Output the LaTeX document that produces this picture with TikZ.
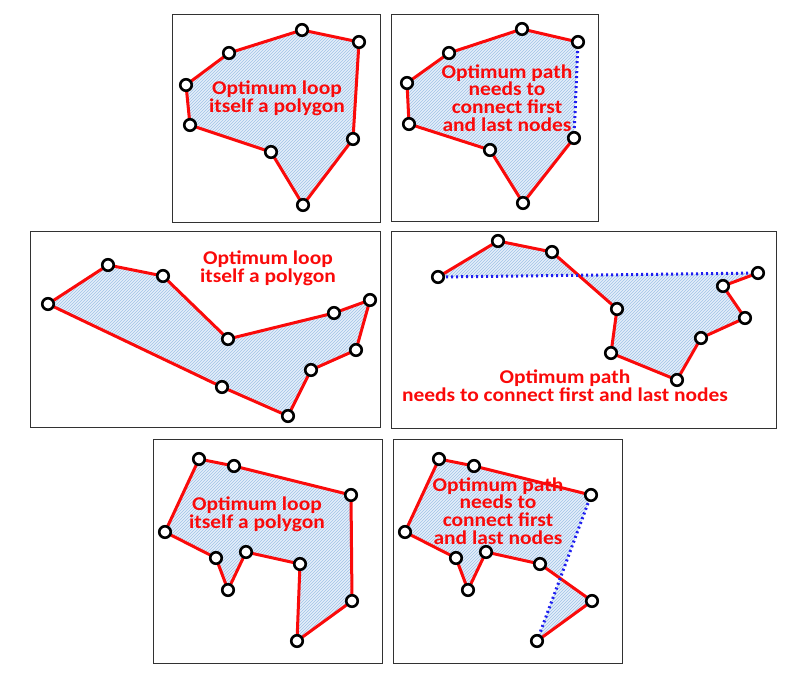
\documentclass[tikz,border=0pt]{standalone}
\usepackage{fontspec}
\setmainfont{Carlito}
\newfontfamily\lblfont[FakeStretch=1.1]{Carlito}
\usetikzlibrary{patterns}
\definecolor{hatchbg}{RGB}{228,238,250}
\definecolor{hatchln}{RGB}{160,195,230}
\definecolor{pred}{RGB}{250,10,10}
\definecolor{pblue}{RGB}{30,30,240}
\definecolor{frame}{RGB}{50,50,50}
\tikzset{
 panel/.style={draw=frame, line width=1pt},
 area/.style={fill=hatchbg},
 hatch/.style={pattern=north east lines, pattern color=hatchln},
 edge/.style={draw=pred, line width=3pt, line join=round},
 closer/.style={draw=pblue, line width=3pt, dash pattern=on 2pt off 3pt},
 pt/.style={circle, draw=black, fill=white, line width=2.6pt, minimum size=11.5pt, inner sep=0pt},
 lbl/.style={text=pred, font=\lblfont\bfseries\fontsize{19.5}{17.6}\selectfont, align=center, inner sep=0pt}
}
\begin{document}
\begin{tikzpicture}[x=1pt,y=-1pt]
\useasboundingbox (0,0) rectangle (792,673);
% ---------- frames
\draw[panel] (172,14) rectangle (380,222);
\draw[panel] (391,14) rectangle (598,221);
\draw[panel] (30,231) rectangle (380,427);
\draw[panel] (391,231) rectangle (776,428);
\draw[panel] (153,439) rectangle (382,663);
\draw[panel] (393,439) rectangle (622,663);

% ---------- panel 1
\coordinate (a1) at (302,30); \coordinate (a2) at (359,42);
\coordinate (a3) at (353,139); \coordinate (a4) at (303,205);
\coordinate (a5) at (271,152); \coordinate (a6) at (190,125);
\coordinate (a7) at (186,85); \coordinate (a8) at (229,53);
\fill[area] (a1)--(a2)--(a3)--(a4)--(a5)--(a6)--(a7)--(a8)--cycle;
\fill[hatch] (a1)--(a2)--(a3)--(a4)--(a5)--(a6)--(a7)--(a8)--cycle;
\draw[edge] (a1)--(a2)--(a3)--(a4)--(a5)--(a6)--(a7)--(a8)--cycle;
\node[lbl] (t1) at (277,98) {Optimum loop\\itself a polygon};
\foreach \p in {a1,a2,a3,a4,a5,a6,a7,a8} \node[pt] (n\p) at (\p) {};

% ---------- panel 2
\coordinate (b1) at (578,42); \coordinate (b2) at (522,29);
\coordinate (b3) at (449,53); \coordinate (b4) at (407,83);
\coordinate (b5) at (409,124); \coordinate (b6) at (490,150);
\coordinate (b7) at (523,203); \coordinate (b8) at (574,138);
\fill[area] (b1)--(b2)--(b3)--(b4)--(b5)--(b6)--(b7)--(b8)--cycle;
\fill[hatch] (b1)--(b2)--(b3)--(b4)--(b5)--(b6)--(b7)--(b8)--cycle;
\draw[edge] (b1)--(b2)--(b3)--(b4)--(b5)--(b6)--(b7)--(b8);
\draw[closer] (b8)--(b1);
\node[lbl] (t2) at (507,98) {Optimum path\\needs to\\connect first\\and last nodes};
\foreach \p in {b1,b2,b3,b4,b5,b6,b7,b8} \node[pt] (n\p) at (\p) {};

% ---------- panel 3
\coordinate (c1) at (48,304); \coordinate (c2) at (108,265);
\coordinate (c3) at (163,276); \coordinate (c4) at (228,339);
\coordinate (c5) at (334,313); \coordinate (c6) at (370,300);
\coordinate (c7) at (356,350); \coordinate (c8) at (311,370);
\coordinate (c9) at (288,416); \coordinate (c10) at (222,387);
\fill[area] (c1)--(c2)--(c3)--(c4)--(c5)--(c6)--(c7)--(c8)--(c9)--(c10)--cycle;
\fill[hatch] (c1)--(c2)--(c3)--(c4)--(c5)--(c6)--(c7)--(c8)--(c9)--(c10)--cycle;
\draw[edge] (c1)--(c2)--(c3)--(c4)--(c5)--(c6)--(c7)--(c8)--(c9)--(c10)--cycle;
\node[lbl] (t3) at (268,268) {Optimum loop\\itself a polygon};
\foreach \p in {c1,c2,c3,c4,c5,c6,c7,c8,c9,c10} \node[pt] (n\p) at (\p) {};

% ---------- panel 4
\coordinate (d1) at (438,277); \coordinate (d2) at (498,241);
\coordinate (d3) at (552,252); \coordinate (d4) at (617,309);
\coordinate (d5) at (611,353); \coordinate (d6) at (677,380);
\coordinate (d7) at (701,338); \coordinate (d8) at (745,318);
\coordinate (d9) at (723,286); \coordinate (d10) at (758,273);
\fill[area] (d1)--(d2)--(d3)--(d4)--(d5)--(d6)--(d7)--(d8)--(d9)--(d10)--cycle;
\fill[hatch] (d1)--(d2)--(d3)--(d4)--(d5)--(d6)--(d7)--(d8)--(d9)--(d10)--cycle;
\draw[edge] (d1)--(d2)--(d3)--(d4)--(d5)--(d6)--(d7)--(d8)--(d9)--(d10);
\draw[closer] (d10)--(d1);
\node[lbl] (t4) at (565,386) {Optimum path\\needs to connect first and last nodes};
\foreach \p in {d1,d2,d3,d4,d5,d6,d7,d8,d9,d10} \node[pt] (n\p) at (\p) {};

% ---------- panel 5
\coordinate (e1) at (199,459); \coordinate (e2) at (234,466);
\coordinate (e3) at (351,495); \coordinate (e4) at (352,601);
\coordinate (e5) at (297,641); \coordinate (e6) at (300,564);
\coordinate (e7) at (246,552); \coordinate (e8) at (228,590);
\coordinate (e9) at (216,558); \coordinate (e10) at (165,532);
\fill[area] (e1)--(e2)--(e3)--(e4)--(e5)--(e6)--(e7)--(e8)--(e9)--(e10)--cycle;
\fill[hatch] (e1)--(e2)--(e3)--(e4)--(e5)--(e6)--(e7)--(e8)--(e9)--(e10)--cycle;
\draw[edge] (e1)--(e2)--(e3)--(e4)--(e5)--(e6)--(e7)--(e8)--(e9)--(e10)--cycle;
\node[lbl] (t5) at (257,514) {Optimum loop\\itself a polygon};
\foreach \p in {e1,e2,e3,e4,e5,e6,e7,e8,e9,e10} \node[pt] (n\p) at (\p) {};

% ---------- panel 6
\coordinate (f1) at (591,495); \coordinate (f2) at (474,466);
\coordinate (f3) at (439,459); \coordinate (f4) at (405,532);
\coordinate (f5) at (456,558); \coordinate (f6) at (468,590);
\coordinate (f7) at (486,552); \coordinate (f8) at (540,564);
\coordinate (f9) at (592,601); \coordinate (f10) at (537,641);
\fill[area] (f1)--(f2)--(f3)--(f4)--(f5)--(f6)--(f7)--(f8)--(f9)--(f10)--cycle;
\fill[hatch] (f1)--(f2)--(f3)--(f4)--(f5)--(f6)--(f7)--(f8)--(f9)--(f10)--cycle;
\draw[edge] (f1)--(f2)--(f3)--(f4)--(f5)--(f6)--(f7)--(f8)--(f9)--(f10);
\draw[closer] (f10)--(f1);
\node[lbl] (t6) at (498,511) {Optimum path\\needs to\\connect first\\and last nodes};
\foreach \p in {f1,f2,f3,f4,f5,f6,f7,f8,f9,f10} \node[pt] (n\p) at (\p) {};
\end{tikzpicture}
\end{document}
